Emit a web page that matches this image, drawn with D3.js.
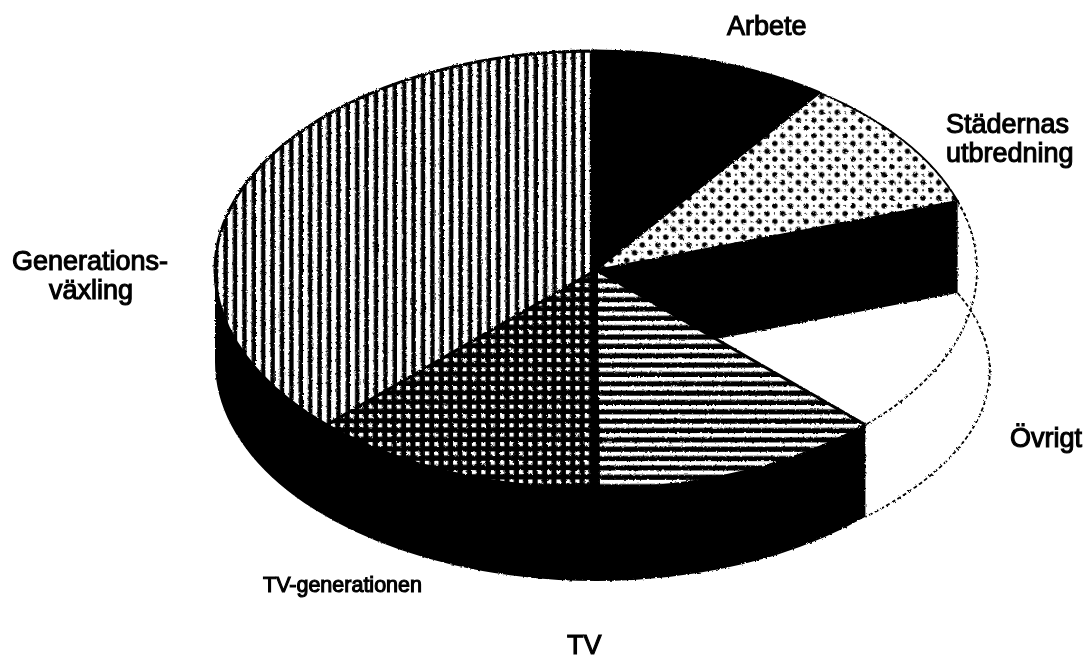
<!DOCTYPE html>
<html>
<head>
<meta charset="utf-8">
<script src="https://cdn.jsdelivr.net/npm/d3@7"></script>
<style>
  html, body { margin: 0; background: #fff; }
  svg { display: block; }
  text { font-family: "Liberation Sans", Arial, sans-serif; fill: #000; stroke: #000; stroke-width: 1.1px; }
</style>
</head>
<body>
<div id="pieview"></div>
<script>
// clockwise from 12 o'clock, share of the pie in percent
const categories = ['Arbete', 'Städernas utbredning', 'Övrigt', 'TV', 'TV-generationen', 'Generationsväxling']
const shares = [10, 9.9, 17.6, 12.4, 12.6, 37.5]
const fills = ['solid', 'dots', 'none', 'hlines', 'grid', 'vlines']
const labelLines = [['Arbete'], ['Städernas', 'utbredning'], ['Övrigt'], ['TV'], ['TV-generationen'], ['Generations-', 'växling']]

const width = 1088,
  height = 660,
  cx = 596,
  cy = 270,
  rx = 381,
  ry = 219,
  depth = 92

// label anchors, same order as categories: [[x, baseline], ...] per line
const labelPos = [
  [[727, 35]],
  [[946, 133], [946, 162]],
  [[1010, 447]],
  [[567, 654]],
  [[263, 592]],
  [[12, 270], [49, 299]]
]

const svg = d3.select('#pieview').append('svg')
  .attr('width', width)
  .attr('height', height)
const defs = svg.append('defs')

// scanned look: edges get slightly rough
const rough = defs.append('filter')
  .attr('id', 'rough')
  .attr('filterUnits', 'userSpaceOnUse')
  .attr('x', 0).attr('y', 0).attr('width', width).attr('height', height)
rough.append('feTurbulence')
  .attr('type', 'fractalNoise')
  .attr('baseFrequency', 0.4)
  .attr('numOctaves', 2)
  .attr('seed', 4)
  .attr('result', 'noise')
rough.append('feDisplacementMap')
  .attr('in', 'SourceGraphic')
  .attr('in2', 'noise')
  .attr('scale', 3)
const soft = defs.append('filter')
  .attr('id', 'soft')
  .attr('filterUnits', 'userSpaceOnUse')
  .attr('x', 0).attr('y', 0).attr('width', width).attr('height', height)
soft.append('feGaussianBlur').attr('stdDeviation', 0.5)

// patterns
const vlines = defs.append('pattern').attr('id', 'vlines')
  .attr('patternUnits', 'userSpaceOnUse')
  .attr('x', 585).attr('y', 0).attr('width', 9.4).attr('height', 20)
vlines.append('rect').attr('width', 9.4).attr('height', 20).attr('fill', '#000')
vlines.append('rect').attr('width', 5).attr('height', 20).attr('fill', '#fff')

const hlines = defs.append('pattern').attr('id', 'hlines')
  .attr('patternUnits', 'userSpaceOnUse')
  .attr('x', 0).attr('y', 339.6).attr('width', 20).attr('height', 9.35)
hlines.append('rect').attr('width', 20).attr('height', 9.35).attr('fill', '#000')
hlines.append('rect').attr('width', 20).attr('height', 4.2).attr('fill', '#fff')

const grid = defs.append('pattern').attr('id', 'grid')
  .attr('patternUnits', 'userSpaceOnUse')
  .attr('x', 584.7).attr('y', 386).attr('width', 9.4).attr('height', 9.35)
grid.append('rect').attr('width', 9.4).attr('height', 9.35).attr('fill', '#000')
grid.append('rect').attr('width', 4.2).attr('height', 4).attr('fill', '#fff')

const dots = defs.append('pattern').attr('id', 'dots')
  .attr('patternUnits', 'userSpaceOnUse')
  .attr('x', 771).attr('y', 124).attr('width', 15.6).attr('height', 15.6)
dots.append('rect').attr('width', 15.6).attr('height', 15.6).attr('fill', '#fff')
dots.selectAll('.big').data([[3.9, 3.9], [11.7, 11.7]])
  .enter().append('circle')
  .attr('cx', d => d[0]).attr('cy', d => d[1]).attr('r', 2.7).attr('fill', '#000')
dots.selectAll('.small').data([[11.7, 3.9], [3.9, 11.7]])
  .enter().append('circle')
  .attr('cx', d => d[0]).attr('cy', d => d[1]).attr('r', 1).attr('fill', '#000')

const fillOf = {solid: '#000', dots: 'url(#dots)', none: 'none', hlines: 'url(#hlines)', grid: 'url(#grid)', vlines: 'url(#vlines)'}

const slices = d3.pie().sort(null)(shares)

// point on the rim, a = clockwise from 12 o'clock, dy = how far down the rim is shifted
const rim = (a, dy = 0) => [cx + rx * Math.sin(a), cy + dy - ry * Math.cos(a)]
const arcTo = (a0, a1, dy = 0, r = rx) => {
  const p = rim(a1, dy)
  return `A${r},${ry} 0 ${a1 - a0 > Math.PI ? 1 : 0} ${a1 > a0 ? 1 : 0} ${p[0]},${p[1]}`
}

const pieG = svg.append('g').attr('id', 'pie-g').attr('filter', 'url(#rough)')
const outer = slices[2]  // the removed slice
const leftmost = 1.5 * Math.PI

// outer wall, from the end of the removed slice round to the left edge
const w0 = rim(outer.endAngle), w1 = rim(outer.endAngle, depth)
pieG.append('path')
  .attr('d', `M${w0} L${w1} ${arcTo(outer.endAngle, leftmost, depth)} L${rim(leftmost)} ${arcTo(leftmost, outer.endAngle)} Z`)
  .attr('fill', '#000')

// cut face left open by the removed slice
const cut = rim(outer.startAngle)
pieG.append('path')
  .attr('d', `M${cx},${cy} L${cut} L${rim(outer.startAngle, depth)} L${cx},${cy + depth} Z`)
  .attr('fill', '#000')

// top of the slices
pieG.append('g').selectAll('.slice').data(slices.filter((d, i) => fills[i] !== 'none'))
  .enter().append('path')
  .attr('class', 'slice')
  .attr('d', d => `M${cx},${cy} L${rim(d.startAngle)} ${arcTo(d.startAngle, d.endAngle)} Z`)
  .attr('fill', d => fillOf[fills[d.index]])
  .attr('stroke', '#000')
  .attr('stroke-width', d => d.index === 1 ? 2 : 3)
  .attr('stroke-linejoin', 'round')

// dark band down the 12/6 o'clock line
pieG.append('line')
  .attr('x1', cx - 2).attr('x2', cx - 2)
  .attr('y1', cy - ry).attr('y2', cy + ry)
  .attr('stroke', '#000').attr('stroke-width', 8)

// removed slice, dashed outline on both rims
pieG.append('path')
  .attr('d', `M${rim(outer.startAngle)} ${arcTo(outer.startAngle, outer.endAngle)}`)
  .attr('fill', 'none').attr('stroke', '#000').attr('stroke-width', 1.8).attr('stroke-dasharray', '4 2.5')
pieG.append('path')
  .attr('d', `M${rim(outer.startAngle, depth)} ${arcTo(outer.startAngle, outer.endAngle, depth, 490)}`)
  .attr('fill', 'none').attr('stroke', '#000').attr('stroke-width', 1.8).attr('stroke-dasharray', '4 2.5')

// labels
const labelG = svg.append('g').attr('id', 'label-g').attr('filter', 'url(#soft)')
labelLines.forEach((lines, i) => {
  lines.forEach((line, j) => {
    labelG.append('text')
      .text(line)
      .attr('x', labelPos[i][j][0])
      .attr('y', labelPos[i][j][1])
      .style('font-size', categories[i] === 'TV-generationen' ? '21.5px' : '27px')
  })
})
</script>
</body>
</html>
